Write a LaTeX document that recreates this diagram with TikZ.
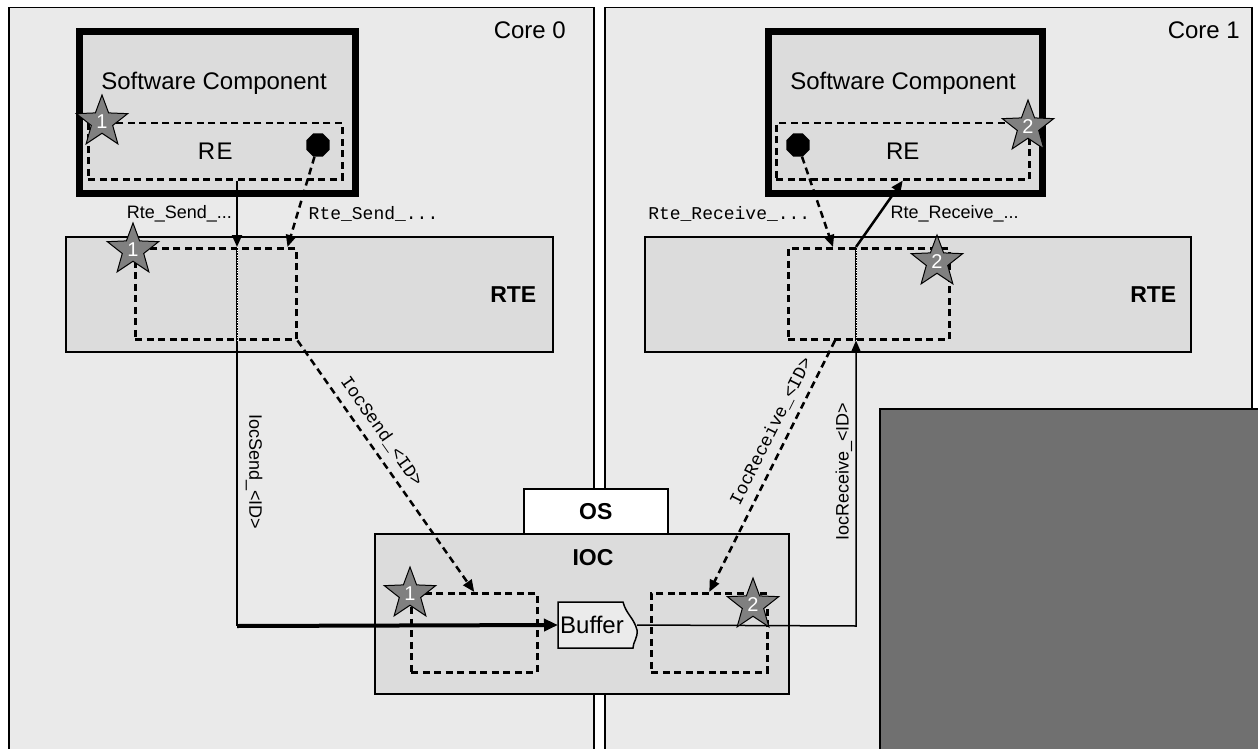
\documentclass[tikz,border=0pt]{standalone}
\usepackage{fontspec}
\setmainfont{Liberation Sans}
\setmonofont{Liberation Mono}
\usetikzlibrary{positioning,shapes.geometric,arrows.meta}
\definecolor{corefill}{HTML}{EAEAEA}
\definecolor{boxfill}{HTML}{DCDCDC}
\definecolor{bufffill}{HTML}{EBEBEB}
\definecolor{stargray}{HTML}{808080}
\definecolor{hwfill}{HTML}{707070}
\newcommand{\fsz}[1]{\fontsize{#1}{#1}\selectfont}
\tikzset{
  corebox/.style={draw, line width=1.5, fill=corefill, anchor=north west, inner sep=0},
  swcbox/.style={draw, line width=7, fill=boxfill, anchor=north west, inner sep=0},
  layerbox/.style={draw, line width=1.5, fill=boxfill, anchor=north west, inner sep=0},
  runbox/.style={draw, line width=2.5, dash pattern=on 7pt off 4.5pt, anchor=north west, inner sep=0},
  tagstar/.style={star, star points=5, star point ratio=2.4, minimum size=54, inner sep=0, draw, line width=1, fill=stargray, text=white, font=\fsz{20}},
  evdot/.style={regular polygon, regular polygon sides=8, minimum size=25, inner sep=0, fill=black},
  call/.style={-{Triangle[length=12pt,width=10pt]}, line width=2},
  dcall/.style={call, line width=2.5, dash pattern=on 7pt off 4.5pt},
  bigcall/.style={-{Triangle[length=14pt,width=12pt]}, line width=4},
  ttl/.style={font=\fsz{24}, inner sep=0},
  lyr/.style={font=\fsz{23}\bfseries, inner sep=0},
  api/.style={font=\fsz{18}, inner sep=0},
  apimono/.style={font=\fsz{18}\ttfamily, inner sep=0}
}
\begin{document}
\begin{tikzpicture}[x=1pt, y=-1pt]
  \useasboundingbox (0,0) rectangle (1258,749);
  \clip (0,0) rectangle (1258,749);
  \fill[white] (0,0) rectangle (1258,749);

  % cores
  \node[corebox, minimum width=585, minimum height=760] (core0) at (8,7) {};
  \node[corebox, minimum width=647, minimum height=760] (core1) at (604,7) {};
  \node[ttl, anchor=east] (core0lbl) at (566,30) {Core 0};
  \node[ttl, anchor=east] (core1lbl) at (1240,30) {Core 1};
  \node[corebox, fill=hwfill, minimum width=390, minimum height=360] (hw) at (879,408) {};

  % software components
  \node[swcbox, minimum width=276, minimum height=162] (swc0) at (76,28) {};
  \node[swcbox, minimum width=274, minimum height=162] (swc1) at (765,28) {};
  \node[ttl] (swc0lbl) at (214,83) {Software Component};
  \node[ttl] (swc1lbl) at (903,83) {Software Component};
  \node[runbox, minimum width=254, minimum height=56, font=\fsz{24}] (re0) at (87,122) {R\kern1.5pt E};
  \node[runbox, minimum width=253, minimum height=56, font=\fsz{24}] (re1) at (775,122) {RE};
  \node[evdot] (ev0) at (318,145) {};
  \node[evdot] (ev1) at (798,145) {};

  % RTE
  \node[layerbox, minimum width=487, minimum height=115] (rte0) at (65,236) {};
  \node[layerbox, minimum width=546, minimum height=115] (rte1) at (644,236) {};
  \node[lyr, left=17pt of rte0.east] (rte0lbl) {RTE};
  \node[lyr, left=15pt of rte1.east] (rte1lbl) {RTE};
  \node[runbox, minimum width=161, minimum height=91] (rb0) at (134,247) {};
  \node[runbox, minimum width=161, minimum height=91] (rb1) at (787,247) {};

  % IOC
  \node[layerbox, fill=white, minimum width=144, minimum height=45, font=\fsz{23}\bfseries] (os) at (523,488) {OS};
  \node[layerbox, minimum width=414, minimum height=160] (ioc) at (374,533) {};
  \node[lyr] (ioclbl) at (593,558) {IOC};
  \node[runbox, minimum width=126, minimum height=79] (ib0) at (410,592) {};
  \node[runbox, minimum width=116, minimum height=79] (ib1) at (650,592) {};
  \draw[line width=1.5, fill=bufffill] (558,602) -- (623,602) .. controls (626,614) and (634,618) .. (637,630)
    .. controls (638,638) and (633,642) .. (633,648) -- (558,648) -- cycle;
  \node[ttl, anchor=west, inner xsep=2, minimum height=46] (buf) at (558,625) {Buffer};

  % send path
  \coordinate (sx) at (237,626);
  \coordinate (rx) at (856,626);
  \draw[call] (re0.south -| sx) -- node[api, anchor=east, xshift=-4] {Rte\_Send\_...} (rb0.north -| sx);
  \draw[dcall] (ev0) -- node[apimono, pos=0.63, anchor=west, xshift=10] {Rte\_Send\_...} ([xshift=-10]rb0.north east);
  \draw[line width=1.5] (rb0.north -| sx) -- (rb0.south -| sx);
  \draw[white, line width=0.7, dash pattern=on 1pt off 1.5pt] (rb0.north -| sx) -- (rb0.south -| sx);
  \draw[line width=1.5] (rb0.south -| sx) -- node[api, pos=0.46, rotate=-90, anchor=south, inner ysep=8] {IocSend\_<ID>} (sx);
  \draw[bigcall] (sx) -- (buf.west);
  \draw[dcall] (rb0.south east) -- node[apimono, sloped, above, inner ysep=8, pos=0.4] {IocSend\_<ID>} (ib0.north);

  % receive path
  \draw[call, line width=1.5] ([xshift=11]buf.east) -- (rx) -- node[api, pos=0.54, rotate=90, anchor=south, inner ysep=3] {IocReceive\_<ID>} (rb1.south -| rx);
  \draw[line width=1.5] (rb1.north -| rx) -- (rb1.south -| rx);
  \draw[white, line width=0.7, dash pattern=on 1pt off 1.5pt] (rb1.north -| rx) -- (rb1.south -| rx);
  \draw[call, line width=2.5] (rb1.north -| rx) -- node[api, anchor=west, xshift=10] {Rte\_Receive\_...} (re1.south);
  \draw[dcall] (ev1) -- node[apimono, pos=0.63, anchor=east, xshift=-10] {Rte\_Receive\_...} ([xshift=46]rb1.north west);
  \draw[dcall] ([xshift=48]rb1.south west) -- node[apimono, sloped, above, inner ysep=8, pos=0.39] {IocReceive\_<ID>} (ib1.north);

  % markers
  \node[tagstar] (st0a) at (102,122) {1};
  \node[tagstar] (st0b) at (133,250) {1};
  \node[tagstar] (st0c) at (410,594) {1};
  \node[tagstar] (st1a) at (1028,127) {2};
  \node[tagstar] (st1b) at (937,262) {2};
  \node[tagstar] (st1c) at (753,605) {2};
\end{tikzpicture}
\end{document}
